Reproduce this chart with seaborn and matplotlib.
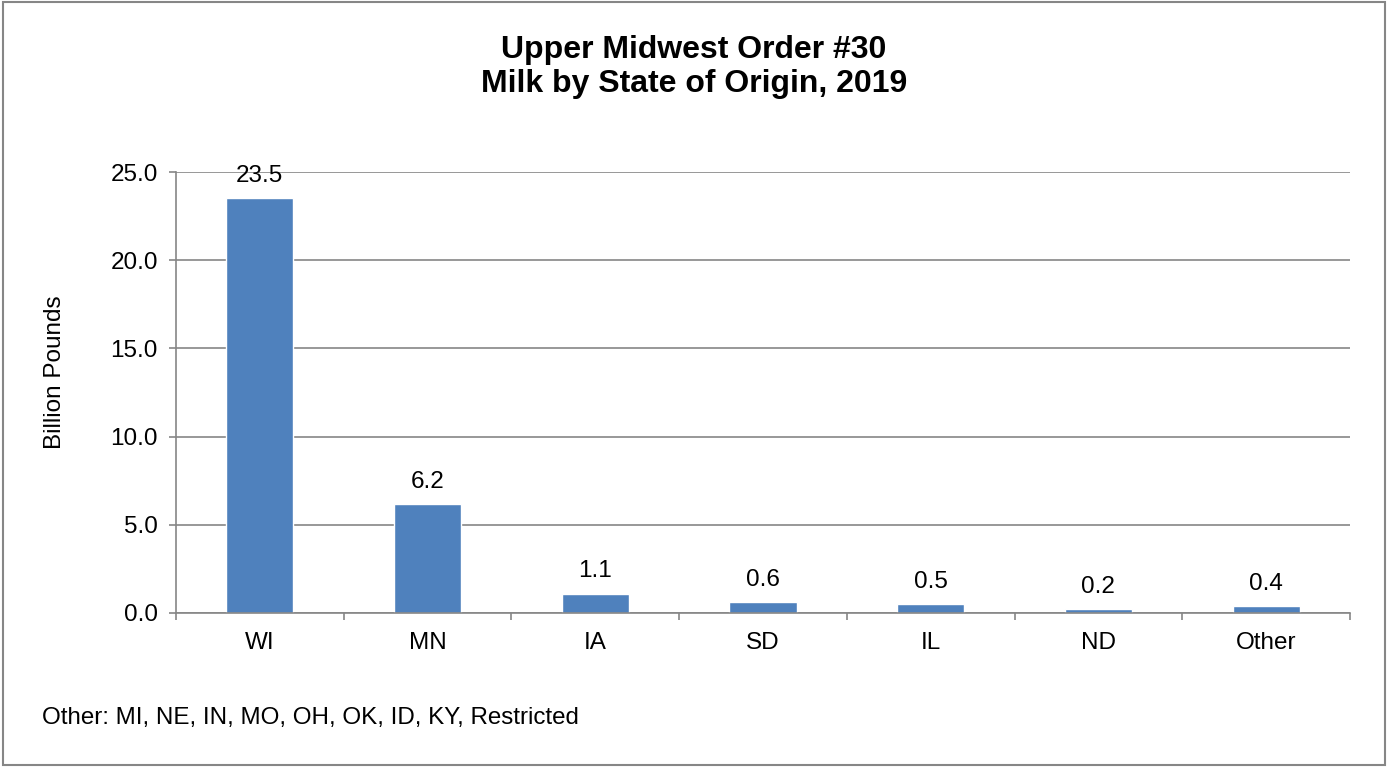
import pandas as pd
import numpy as np
import matplotlib.pyplot as plt
import seaborn as sns
from matplotlib.patches import Rectangle

# Datos
states = ["WI", "MN", "IA", "SD", "IL", "ND", "Other"]
milk = [23.5, 6.2, 1.1, 0.6, 0.5, 0.2, 0.4]
labels = ["23.5", "6.2", "1.1", "0.6", "0.5", "0.2", "0.4"]
df = pd.DataFrame({"state": states, "milk": milk})

sns.set_style("white")
plt.rcParams["font.family"] = ["Liberation Sans", "DejaVu Sans"]
plt.rcParams["text.color"] = "black"
plt.rcParams["xtick.color"] = "black"
plt.rcParams["ytick.color"] = "black"
plt.rcParams["axes.labelcolor"] = "black"

fig = plt.figure(figsize=(13.88, 7.67), dpi=100)
ax = fig.add_axes([0.1268, 0.2008, 0.8458, 0.5749])

sns.barplot(data=df, x="state", y="milk", color="#4F81BD", saturation=1,
            width=0.4, ax=ax)

for i, (v, t) in enumerate(zip(milk, labels)):
    ax.annotate(t, (i, v), xytext=(0, 8), textcoords="offset points",
                ha="center", va="bottom", fontsize=17.5)

ax.set_ylim(0, 25)
ax.set_xlim(-0.5, len(states) - 0.5)
ax.set_yticks(np.arange(0, 25.1, 5))
ax.set_yticklabels([f"{t:.1f}" for t in np.arange(0, 25.1, 5)], fontsize=17.5)
ax.yaxis.grid(True, color="#868686", linewidth=1.2)
ax.set_axisbelow(True)
ax.tick_params(axis="y", length=5, width=1.2, color="#868686", pad=8, left=True)
ax.tick_params(axis="x", which="major", length=0, pad=14, labelsize=17.5)
ax.set_xticks(np.arange(-0.5, len(states), 1), minor=True)
ax.tick_params(axis="x", which="minor", length=5, width=1.2, color="#868686", bottom=True)

for s in ["top", "right"]:
    ax.spines[s].set_visible(False)
for s in ["left", "bottom"]:
    ax.spines[s].set_color("#868686")
    ax.spines[s].set_linewidth(1.2)

ax.set_xlabel("")
ax.set_ylabel("Billion Pounds", fontsize=17.5)
ax.yaxis.set_label_coords(-0.094, 0.546)

fig.text(0.5, 0.913, "Upper Midwest Order #30\nMilk by State of Origin, 2019",
         ha="center", va="center", fontsize=23, fontweight="bold", linespacing=1.19)
fig.text(0.030, 0.064, "Other: MI, NE, IN, MO, OH, OK, ID, KY, Restricted",
         ha="left", va="center", fontsize=17.4)

fig.patches.append(Rectangle((0.002, 0.002), 0.996, 0.996, transform=fig.transFigure,
                             fill=False, edgecolor="#868686", linewidth=1.5))

plt.savefig("out.png", dpi=100)
